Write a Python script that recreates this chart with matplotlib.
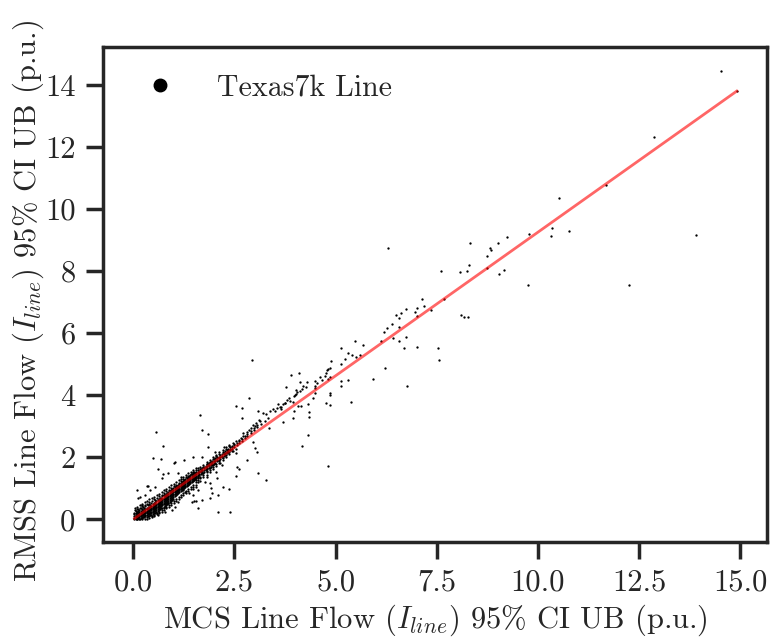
import matplotlib
matplotlib.use("Agg")
import matplotlib.pyplot as plt
from matplotlib.lines import Line2D
import numpy as np

# ---------------- data ----------------
# dense core, as (x, [y values]) columns
core_a = [
    (0.03, [0.01, 0.05, 0.10, 0.16, 0.22]),
    (0.06, [0.02, 0.06, 0.11, 0.15, 0.21, 0.28]),
    (0.09, [0.01, 0.04, 0.09, 0.13, 0.18, 0.24]),
    (0.12, [0.03, 0.08, 0.12, 0.16, 0.20, 0.26, 0.33]),
    (0.15, [0.02, 0.07, 0.11, 0.15, 0.19, 0.24, 0.30]),
    (0.18, [0.05, 0.10, 0.14, 0.18, 0.22, 0.27, 0.36]),
    (0.21, [0.04, 0.09, 0.14, 0.19, 0.23, 0.28, 0.34]),
    (0.24, [0.08, 0.13, 0.17, 0.22, 0.26, 0.31, 0.40]),
    (0.27, [0.06, 0.11, 0.16, 0.21, 0.25, 0.30, 0.36]),
    (0.30, [0.10, 0.15, 0.19, 0.24, 0.28, 0.33, 0.42]),
    (0.33, [0.08, 0.14, 0.19, 0.23, 0.28, 0.32, 0.38]),
    (0.36, [0.12, 0.17, 0.22, 0.27, 0.31, 0.36, 0.45]),
    (0.39, [0.11, 0.16, 0.21, 0.26, 0.30, 0.35, 0.41, 0.50]),
    (0.42, [0.15, 0.20, 0.25, 0.30, 0.34, 0.39, 0.46]),
    (0.45, [0.14, 0.19, 0.24, 0.29, 0.33, 0.38, 0.43, 0.52]),
    (0.48, [0.17, 0.23, 0.28, 0.33, 0.37, 0.42, 0.49]),
]
core_b = [
    (0.51, [0.20, 0.26, 0.31, 0.36, 0.41, 0.46, 0.53]),
    (0.54, [0.22, 0.28, 0.33, 0.38, 0.43, 0.48, 0.56]),
    (0.57, [0.25, 0.31, 0.36, 0.41, 0.46, 0.51, 0.58]),
    (0.60, [0.28, 0.34, 0.39, 0.44, 0.49, 0.54, 0.62]),
    (0.63, [0.30, 0.36, 0.42, 0.47, 0.52, 0.57, 0.64]),
    (0.66, [0.33, 0.39, 0.45, 0.50, 0.55, 0.60, 0.68]),
    (0.69, [0.35, 0.42, 0.48, 0.53, 0.58, 0.63, 0.70]),
    (0.72, [0.38, 0.45, 0.51, 0.56, 0.61, 0.66, 0.74]),
    (0.75, [0.41, 0.48, 0.54, 0.59, 0.64, 0.69, 0.77]),
    (0.78, [0.44, 0.51, 0.57, 0.62, 0.67, 0.72, 0.80]),
    (0.81, [0.47, 0.54, 0.60, 0.65, 0.70, 0.75, 0.83]),
    (0.84, [0.50, 0.57, 0.63, 0.68, 0.73, 0.78, 0.86]),
    (0.87, [0.53, 0.60, 0.66, 0.71, 0.76, 0.81, 0.88]),
    (0.90, [0.56, 0.63, 0.69, 0.74, 0.79, 0.84, 0.92]),
    (0.93, [0.60, 0.66, 0.72, 0.77, 0.82, 0.87, 0.95]),
    (0.96, [0.63, 0.69, 0.75, 0.80, 0.85, 0.90, 0.97]),
    (0.99, [0.66, 0.72, 0.78, 0.83, 0.88, 0.93, 1.00]),
]
core_c = [
    (1.02, [0.76, 0.82, 0.87, 0.92, 0.97, 1.03]),
    (1.05, [0.79, 0.85, 0.90, 0.95, 1.00, 1.06]),
    (1.08, [0.82, 0.88, 0.93, 0.98, 1.03, 1.09]),
    (1.11, [0.85, 0.91, 0.96, 1.01, 1.06, 1.12]),
    (1.14, [0.89, 0.94, 0.99, 1.04, 1.09, 1.15]),
    (1.17, [0.92, 0.97, 1.02, 1.07, 1.12, 1.18]),
    (1.20, [0.95, 1.00, 1.05, 1.10, 1.15, 1.21]),
    (1.23, [0.98, 1.03, 1.08, 1.13, 1.18, 1.24]),
    (1.26, [1.01, 1.06, 1.11, 1.16, 1.21, 1.27]),
    (1.29, [1.04, 1.09, 1.14, 1.19, 1.24, 1.30]),
    (1.32, [1.07, 1.12, 1.17, 1.22, 1.27, 1.33]),
    (1.35, [1.10, 1.15, 1.20, 1.25, 1.30, 1.36]),
    (1.38, [1.14, 1.18, 1.23, 1.28, 1.33, 1.39]),
    (1.41, [1.17, 1.21, 1.26, 1.31, 1.36, 1.42]),
    (1.44, [1.20, 1.25, 1.29, 1.34, 1.39, 1.45]),
    (1.47, [1.24, 1.28, 1.32, 1.37, 1.42, 1.48]),
    (1.50, [1.27, 1.31, 1.35, 1.40, 1.45, 1.51]),
    (1.53, [1.30, 1.34, 1.38, 1.43, 1.48]),
    (1.56, [1.33, 1.37, 1.41, 1.46, 1.51]),
    (1.59, [1.36, 1.40, 1.44, 1.49, 1.54]),
]
core_d = [
    (1.63, [1.42, 1.47, 1.52, 1.57]),
    (1.67, [1.46, 1.51, 1.56, 1.61]),
    (1.71, [1.50, 1.55, 1.60, 1.65]),
    (1.75, [1.54, 1.59, 1.64, 1.69]),
    (1.79, [1.58, 1.63, 1.68, 1.73]),
    (1.83, [1.62, 1.67, 1.72, 1.77]),
    (1.87, [1.66, 1.71, 1.76, 1.81]),
    (1.91, [1.70, 1.75, 1.80, 1.85]),
    (1.95, [1.74, 1.79, 1.84, 1.89]),
    (1.99, [1.78, 1.83, 1.88, 1.93]),
    (2.03, [1.83, 1.88, 1.93, 1.98]),
    (2.07, [1.87, 1.92, 1.97, 2.02]),
    (2.11, [1.92, 1.97, 2.02]),
    (2.15, [1.96, 2.01, 2.06]),
    (2.19, [2.00, 2.05, 2.10]),
    (2.23, [2.05, 2.10, 2.15]),
    (2.27, [2.09, 2.14, 2.19]),
    (2.31, [2.13, 2.18, 2.23]),
    (2.35, [2.18, 2.23, 2.28]),
    (2.40, [2.23, 2.28, 2.33]),
    (2.45, [2.28, 2.33, 2.38]),
    (2.50, [2.34, 2.39, 2.44]),
    (2.56, [2.40, 2.46]),
    (2.62, [2.47, 2.53]),
    (2.68, [2.53, 2.60]),
    (2.75, [2.61, 2.68]),
    (2.82, [2.69, 2.76]),
    (2.90, [2.78, 2.86]),
    (2.98, [2.88, 2.95]),
    (3.06, [2.98, 3.05]),
    (3.15, [3.08]),
    (3.25, [3.18]),
    (3.33, [3.28]),
]
# outer fringe of the dense core
core_e = [
    (0.05, [0.30, 0.36]),
    (0.10, [0.00, 0.32, 0.40]),
    (0.16, [0.00, 0.37, 0.45]),
    (0.22, [0.00, 0.42, 0.50]),
    (0.28, [0.01, 0.47, 0.55]),
    (0.34, [0.02, 0.50, 0.60]),
    (0.40, [0.05, 0.56, 0.64]),
    (0.46, [0.07, 0.10, 0.60, 0.68]),
    (0.52, [0.12, 0.15, 0.64, 0.72]),
    (0.58, [0.16, 0.20, 0.68, 0.77]),
    (0.64, [0.20, 0.24, 0.74, 0.82]),
    (0.70, [0.25, 0.29, 0.79, 0.88]),
    (0.76, [0.30, 0.35, 0.85, 0.93]),
    (0.82, [0.36, 0.41, 0.91, 0.99]),
    (0.88, [0.41, 0.46, 0.96, 1.05]),
    (0.94, [0.47, 0.52, 1.02, 1.10]),
    (1.00, [0.53, 0.58, 1.07, 1.15]),
    (1.06, [0.60, 0.66, 1.12, 1.20]),
    (1.12, [0.66, 0.72, 1.18, 1.26]),
    (1.18, [0.72, 0.78, 1.24, 1.31]),
    (1.24, [0.78, 0.85, 1.29, 1.37]),
    (1.30, [0.85, 0.92, 1.35, 1.42]),
    (1.36, [0.91, 0.98, 1.41, 1.48]),
    (1.42, [0.98, 1.05, 1.47, 1.54]),
    (1.48, [1.05, 1.12, 1.53, 1.60]),
    (1.54, [1.12, 1.19, 1.28, 1.58, 1.65]),
    (1.60, [1.19, 1.26, 1.33, 1.59, 1.64]),
    (1.65, [1.25, 1.32, 1.38, 1.63, 1.69]),
    (1.73, [1.35, 1.42, 1.48, 1.70, 1.76]),
    (1.81, [1.44, 1.51, 1.57, 1.78, 1.84]),
    (1.89, [1.53, 1.60, 1.66, 1.86, 1.92]),
    (1.97, [1.62, 1.69, 1.75, 1.94, 2.00]),
    (2.05, [1.72, 1.79, 2.03, 2.09]),
    (2.13, [1.82, 1.88, 2.10, 2.16]),
    (2.21, [1.92, 1.98, 2.18, 2.25]),
    (2.29, [2.02, 2.08, 2.27, 2.33]),
    (2.37, [2.10, 2.17, 2.35, 2.41]),
    (2.46, [2.20, 2.47]),
    (2.53, [2.27, 2.52]),
]

# scattered points around the core (x, y)
near_pts = [
    (0.12, 0.68), (0.62, 1.61), (1.03, 1.84), (1.47, 2.00), (1.70, 2.01),
    (2.02, 2.18), (2.18, 1.75), (1.93, 1.00), (1.69, 0.62), (1.48, 0.78),
    (1.56, 1.05), (1.28, 0.89), (1.11, 0.57), (0.78, 0.25), (0.95, 0.30),
    (0.62, 0.14), (1.77, 1.21), (1.81, 1.37), (2.06, 1.32), (2.10, 0.78),
    (1.36, 1.21), (0.29, 0.78), (0.41, 0.94), (0.54, 1.05), (0.70, 1.32),
    (0.86, 1.48), (1.19, 1.37), (0.21, 0.46), (0.49, 0.41), (1.03, 0.41),
    (0.86, 0.52), (1.44, 0.57), (1.89, 0.68), (0.68, 1.94), (0.73, 1.47),
    (1.84, 2.32), (1.84, 1.78), (1.90, 1.16), (1.51, 0.60), (1.00, 1.82),
    (1.26, 1.91), (1.10, 1.49), (0.35, 1.07), (2.22, 1.05), (2.57, 1.70),
    (2.55, 2.13), (2.44, 2.21), (2.32, 2.17), (2.25, 2.34), (2.14, 1.81),
    (2.04, 1.53), (1.60, 0.94), (1.38, 0.84), (1.23, 0.94), (0.77, 0.78),
    (0.54, 0.62), (0.17, 0.73), (0.08, 0.94), (3.21, 3.42), (3.37, 3.50),
    (3.45, 3.55), (3.54, 3.58), (3.62, 3.63), (3.74, 3.74), (3.95, 3.79),
    (2.96, 3.04), (3.04, 3.11), (3.13, 3.18), (2.90, 2.95), (2.80, 2.82),
    (2.71, 2.77), (3.36, 2.93), (2.93, 5.13), (1.65, 3.36), (0.55, 2.81),
    (0.73, 2.37), (0.49, 1.99), (1.70, 2.88), (1.85, 2.74), (2.53, 3.65),
    (2.68, 3.60), (2.68, 3.26), (2.85, 3.92), (3.08, 3.49), (2.10, 0.25),
    (2.39, 0.23), (1.60, 0.35), (2.36, 0.98), (3.27, 1.26), (3.09, 1.50),
    (2.55, 1.41), (2.62, 1.63), (2.80, 1.91), (3.06, 2.18), (3.00, 2.29),
    (2.95, 2.49), (0.36, 1.08), (1.95, 0.86), (1.55, 0.60), (1.47, 0.97),
    (2.60, 2.55), (2.65, 2.62), (2.72, 2.70), (2.85, 2.88), (3.00, 3.02),
    (3.10, 3.20), (3.28, 3.38), (3.50, 3.48), (3.58, 3.72), (3.80, 3.86),
    (3.85, 3.92), (4.05, 4.10), (4.20, 4.30),
]

# middle points (x, y)
mid_pts = [
    (5.49, 5.76), (5.68, 5.62), (5.12, 5.51), (5.31, 5.35), (5.40, 5.31),
    (5.59, 5.30), (5.51, 5.22), (5.22, 5.16), (4.89, 5.10), (5.12, 5.00),
    (4.87, 4.89), (4.82, 4.84), (4.79, 4.81), (4.76, 4.71), (4.73, 4.63),
    (4.85, 4.59), (4.80, 4.52), (4.61, 4.58), (4.66, 4.49), (4.48, 4.47),
    (4.53, 4.38), (4.28, 4.44), (4.13, 4.44), (3.89, 4.64), (4.09, 4.71),
    (3.78, 4.27), (4.50, 4.29), (4.48, 4.22), (4.26, 4.26), (4.17, 4.21),
    (4.11, 4.15), (4.01, 4.17), (4.02, 4.05), (4.00, 4.02), (3.96, 3.97),
    (4.50, 4.08), (4.43, 3.91), (3.87, 3.80), (3.74, 3.76), (3.70, 3.72),
    (3.66, 3.63), (3.64, 3.57), (4.07, 3.66), (4.14, 3.66), (4.31, 3.71),
    (5.14, 4.47), (5.30, 4.49), (5.12, 4.29), (4.85, 4.06), (4.85, 4.02),
    (4.75, 3.75), (4.85, 3.68), (5.38, 3.78), (5.93, 4.52), (6.77, 4.29),
    (3.96, 3.48), (4.33, 3.47), (3.95, 3.27), (4.35, 3.31), (3.71, 3.13),
    (4.32, 2.71), (4.16, 2.36), (4.82, 1.72),
    (7.68, 7.10), (7.14, 7.10), (7.02, 6.80), (6.95, 6.69), (7.19, 6.88),
    (7.36, 6.76), (6.73, 6.78), (6.62, 6.65), (6.50, 6.60), (6.57, 6.50),
    (7.02, 6.55), (6.40, 6.30), (6.26, 6.16), (6.19, 6.03), (6.56, 6.21),
    (8.09, 6.59), (8.16, 6.52), (8.26, 6.52), (6.11, 5.75), (6.41, 5.85),
    (6.75, 5.89), (6.57, 5.74), (6.69, 5.53), (7.02, 5.56), (7.52, 5.52),
    (7.56, 5.15), (6.23, 4.88),
]

# upper points (x, y)
high_pts = [
    (14.52, 14.46), (14.91, 13.80), (12.87, 12.34), (11.68, 10.79),
    (10.51, 10.36), (10.34, 9.40), (10.31, 9.15), (10.77, 9.28),
    (9.78, 9.19), (9.24, 9.10), (8.31, 8.92), (9.00, 8.91), (8.81, 8.76),
    (8.83, 8.69), (8.74, 8.48), (8.30, 8.20), (7.60, 8.01), (8.06, 7.99),
    (8.25, 8.01), (8.75, 8.11), (9.16, 8.03), (9.04, 7.91), (9.74, 7.57),
    (12.25, 7.57), (13.90, 9.18), (6.30, 8.76),
]

# fitted line
fit_slope = 0.926
fit_intercept = 0.0

series_label = "Texas7k Line"
x_label = r"MCS Line Flow ($I_{line}$) 95% CI UB (p.u.)"
y_label = r"RMSS Line Flow ($I_{line}$) 95% CI UB (p.u.)"
x_ticks = [0.0, 2.5, 5.0, 7.5, 10.0, 12.5, 15.0]
y_ticks = [0, 2, 4, 6, 8, 10, 12, 14]

# ---------------- build arrays ----------------
xs, ys = [], []
for grp in (core_a, core_b, core_c, core_d, core_e):
    for x, yl in grp:
        for y in yl:
            xs.append(x)
            ys.append(y)
for grp in (near_pts, mid_pts, high_pts):
    for x, y in grp:
        xs.append(x)
        ys.append(y)
xs = np.array(xs)
ys = np.array(ys)

# ---------------- style ----------------
plt.rcParams.update({
    "font.family": "serif",
    "font.serif": ["cmr10"],
    "mathtext.fontset": "cm",
    "axes.formatter.use_mathtext": True,
    "axes.unicode_minus": False,
})
dark = "#262626"

fig = plt.figure(figsize=(7.78, 6.43), dpi=100)
ax = fig.add_axes([0.1328, 0.1576, 0.8527, 0.7689])

ax.scatter(xs, ys, s=2.8, c="black", linewidths=0, zorder=2)
lx = np.array([xs.min(), xs.max()])
ax.plot(lx, fit_slope * lx + fit_intercept, color="red", alpha=0.6, lw=2, zorder=3)

ax.set_xlim(-0.74, 15.65)
ax.set_ylim(-0.72, 15.22)
ax.set_xticks(x_ticks)
ax.set_xticklabels([f"{t:.1f}" for t in x_ticks])
ax.set_yticks(y_ticks)
ax.set_yticklabels([str(t) for t in y_ticks])

for sp in ax.spines.values():
    sp.set_linewidth(2.5)
    sp.set_color(dark)
ax.tick_params(axis="both", length=12, width=2.5, color=dark, labelcolor=dark,
               labelsize=22, pad=8)

ax.set_xlabel(x_label, fontsize=22, color=dark, labelpad=4)
ax.set_ylabel(y_label, fontsize=22, color=dark)
ax.yaxis.set_label_coords(-0.1135, 0.487)
ax.yaxis.label.set_verticalalignment("center")

handle = Line2D([], [], marker="o", ls="none", color="black", markersize=9)
ax.legend([handle], [series_label], loc="upper left", frameon=False,
          fontsize=21.5, handletextpad=0.9, borderaxespad=0.5,
          labelcolor=dark)

fig.savefig("out.png", dpi=100)
